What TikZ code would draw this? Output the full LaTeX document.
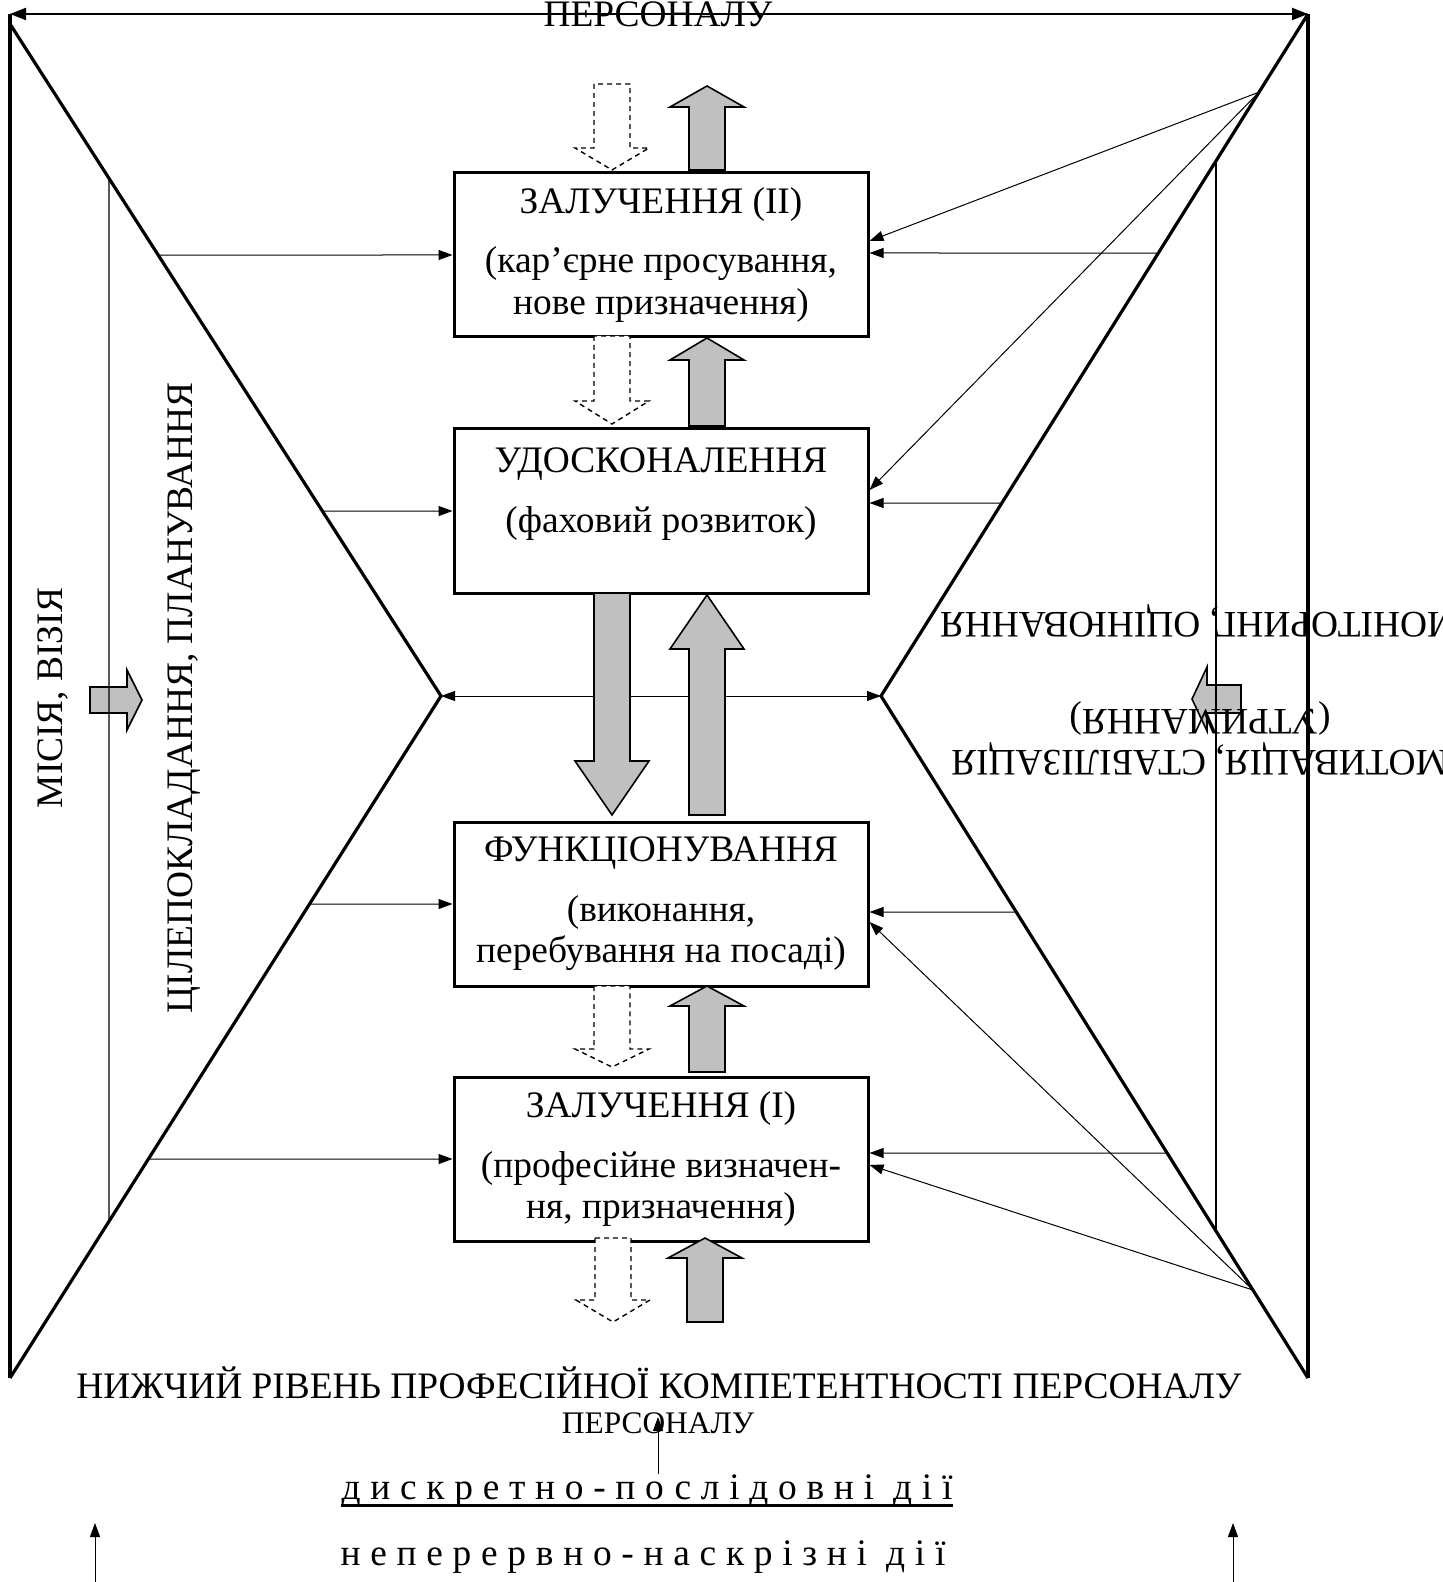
\documentclass[tikz,border=0pt]{standalone}
\usepackage{fontspec}
\setmainfont{Liberation Serif}
\usetikzlibrary{arrows.meta,positioning,calc}
\definecolor{stagegrey}{HTML}{C0C0C0}
\newcommand{\blockv}[5]{\draw[#1] (#2-18,#3) -- (#2-18,#4) -- (#2-37,#4) -- (#2,#5) -- (#2+37,#4) -- (#2+18,#4) -- (#2+18,#3) -- cycle;}

\begin{document}
\begin{tikzpicture}[x=0.5pt,y=-0.5pt,
  box/.style={draw, line width=1.5pt, minimum width=207pt, minimum height=82pt, align=center, inner sep=0pt, font=\fontsize{18.7}{20.7}\selectfont},
  heavy/.style={line width=1.6pt},
  thinline/.style={line width=0.7pt},
  conn/.style={-{Triangle[length=7pt,width=5pt]}, line width=0.5pt},
  twoway/.style={{Triangle[length=7pt,width=5pt]}-{Triangle[length=7pt,width=5pt]}, line width=0.5pt},
  greyarrow/.style={draw, line width=0.8pt, fill=stagegrey},
  dasharrow/.style={draw, line width=0.7pt, dash pattern=on 2.5pt off 2pt, fill=white},
  bigtext/.style={inner sep=0pt, align=center, font=\fontsize{18.7}{20.7}\selectfont}
]
\useasboundingbox (0,0) rectangle (1442,1582);

\coordinate (tl) at (10,14);
\coordinate (tr) at (1308,14);
\coordinate (bl) at (10,1378);
\coordinate (br) at (1308,1378);
\coordinate (ls) at (10,24);
\coordinate (lv) at (441,696);
\coordinate (rv) at (881,696);

\node[box] (b1) at (661,255) {ЗАЛУЧЕННЯ (ІІ)\\[9pt](кар’єрне просування,\\нове призначення)};
\node[box, below=44.5pt of b1] (b2) {УДОСКОНАЛЕННЯ\\[9pt](фаховий розвиток)\\ \mbox{}};
\node[box, below=113pt of b2] (b3) {ФУНКЦІОНУВАННЯ\\[9pt](виконання,\\перебування на посаді)};
\node[box, below=44pt of b3] (b4) {ЗАЛУЧЕННЯ (І)\\[9pt](професійне визначен-\\ня, призначення)};

\draw[line width=1pt, {Triangle[length=8pt,width=6pt]}-{Triangle[length=8pt,width=6pt]}] (tl) -- (tr);
\draw[heavy] (tl) -- (bl);
\draw[heavy] (tr) -- (br);
\draw[heavy] (ls) -- (lv) -- (bl);
\draw[heavy] (tr) -- (rv) -- (br);

\foreach \b/\s in {b1/1, b2/4, b3/-4, b4/3} {
  \coordinate (\b e) at ([yshift=\s pt]\b.east);
  \coordinate (\b w) at ([yshift=\s pt]\b.west);
}
\draw[conn] (intersection of ls--lv and b1.west--b1.east) -- (b1.west);
\draw[conn] (intersection of ls--lv and b2.west--b2.east) -- (b2.west);
\draw[conn] (intersection of lv--bl and b3.west--b3.east) -- (b3.west);
\draw[conn] (intersection of lv--bl and b4.west--b4.east) -- (b4.west);
\draw[conn] (intersection of tr--rv and b1e--b1w) -- (b1e);
\draw[conn] (intersection of tr--rv and b2e--b2w) -- (b2e);
\draw[conn] (intersection of rv--br and b3e--b3w) -- (b3e);
\draw[conn] (intersection of rv--br and b4e--b4w) -- (b4e);

\coordinate (fantop) at ($(tr)!0.1145!(rv)$);
\coordinate (fanbot) at ($(rv)!0.871!(br)$);
\draw[conn] (fantop) -- ([yshift=7pt]b1.east);
\draw[conn] (fantop) -- ([yshift=10.5pt]b2.east);
\draw[conn] (fanbot) -- ([yshift=-9pt]b3.east);
\draw[conn] (fanbot) -- ([yshift=-3pt]b4.east);
\draw[twoway] (lv) -- (rv);

\blockv{dasharrow}{612}{84}{148}{170}
\blockv{greyarrow}{707}{170}{107}{86}
\blockv{dasharrow}{612}{336}{401}{424}
\blockv{greyarrow}{707}{426}{360}{338}
\blockv{greyarrow}{612}{593}{761}{815}
\blockv{greyarrow}{707}{815}{649}{595}
\blockv{dasharrow}{612}{986}{1049}{1067}
\blockv{greyarrow}{707}{1072}{1006}{986}
\blockv{dasharrow}{613}{1238}{1300}{1322}
\blockv{greyarrow}{705}{1322}{1258}{1238}

\draw[greyarrow] (90,687) -- (127,687) -- (127,670) -- (142,700) -- (127,730) -- (127,713) -- (90,713) -- cycle;
\draw[greyarrow] (1241,685) -- (1207,685) -- (1207,667) -- (1192,699) -- (1207,731) -- (1207,713) -- (1241,713) -- cycle;

\draw[thinline] (intersection of ls--lv and 109,0--109,10) -- (intersection of lv--bl and 109,0--109,10);
\draw[thinline] (intersection of tr--rv and 1216,0--1216,10) -- (intersection of rv--br and 1216,0--1216,10);

\node[bigtext, rotate=90] (mission) at (53,698) {МІСІЯ, ВІЗІЯ};
\node[bigtext, rotate=90] (goals) at (184,698) {ЦІЛЕПОКЛАДАННЯ, ПЛАНУВАННЯ};
\node[bigtext, rotate=180] (monitor) at (1200,690) {МОТИВАЦІЯ, СТАБІЛІЗАЦІЯ\\(УТРИМАННЯ)\\[28pt]МОНІТОРИНГ, ОЦІНЮВАННЯ};

\node[bigtext] (toplbl) at (658,14) {ПЕРСОНАЛУ};
\node[bigtext] (lower) at (659,1383) {НИЖЧИЙ РІВЕНЬ ПРОФЕСІЙНОЇ КОМПЕТЕНТНОСТІ ПЕРСОНАЛУ};
\node[inner sep=0pt, font=\fontsize{15.7}{18}\selectfont] (pers2) at (658,1423) {ПЕРСОНАЛУ};
\node[bigtext] (disc) at (647,1491) {\addfontfeature{LetterSpace=26}дискретно-послідовні дії};
\node[bigtext] (cont) at (643,1557) {\addfontfeature{LetterSpace=26}неперервно-наскрізні дії};
\draw[line width=1.2pt] ([yshift=-3pt]disc.base west) -- ([yshift=-3pt]disc.base east);
\draw[conn] (pers2.center |- disc.north) -- ([yshift=3pt]pers2.center);

\coordinate (cl) at (95,1582);
\coordinate (cr) at (1233,1582);
\draw[conn] (cl) -- (cl |- 0,1523);
\draw[conn] (cr) -- (cr |- 0,1523);
\end{tikzpicture}
\end{document}
